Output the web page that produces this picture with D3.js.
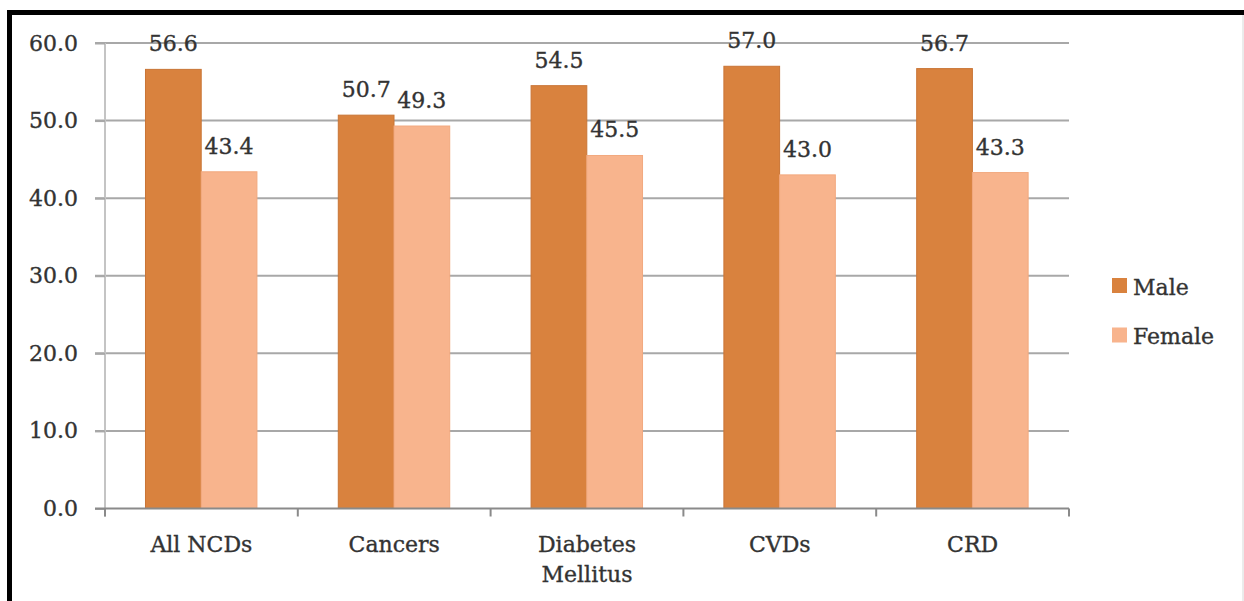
<!DOCTYPE html>
<html>
<head>
<meta charset="utf-8">
<script src="https://cdn.jsdelivr.net/npm/d3@7"></script>
<style>
  html, body { margin: 0; padding: 0; background: #fff; }
  svg { display: block; }
  text { font-family: "DejaVu Serif", serif; fill: #333; stroke: #333; stroke-width: 0.35px; }
</style>
</head>
<body>
<svg id="chart" width="1244" height="601"></svg>
<script>
// Share of deaths by sex for each NCD group (%)
const categories = [["All NCDs"], ["Cancers"], ["Diabetes", "Mellitus"], ["CVDs"], ["CRD"]];
const seriesNames = ["Male", "Female"];
const maleValues = [56.6, 50.7, 54.5, 57.0, 56.7];
const femaleValues = [43.4, 49.3, 45.5, 43.0, 43.3];
const yTicks = [0, 10, 20, 30, 40, 50, 60];

const colors = { Male: "#d9823e", Female: "#f8b48d" };
const strokes = { Male: "#c97536", Female: "#f2a97f" };

const svg = d3.select("#chart");
const W = 1244, H = 601;
const plot = { left: 105, right: 1069, top: 43, bottom: 508.5 };

const catKeys = categories.map(c => c.join(" "));
const rows = catKeys.map((k, i) => ({ key: k, lines: categories[i], Male: maleValues[i], Female: femaleValues[i] }));

const x0 = d3.scaleBand().domain(catKeys).range([plot.left, plot.right]).padding(0);
const bw = x0.bandwidth();
const x1 = d3.scaleBand().domain(seriesNames).range([bw * 0.21, bw * 0.788]).padding(0);
const y = d3.scaleLinear().domain([0, 60]).range([plot.bottom, plot.top]);

// frame
svg.append("rect").attr("x", 0).attr("y", 0).attr("width", W).attr("height", H).attr("fill", "#fff");
svg.append("rect").attr("x", 7).attr("y", 10).attr("width", W - 7).attr("height", 5).attr("fill", "#000");
svg.append("rect").attr("x", 7).attr("y", 10).attr("width", 5).attr("height", H - 10).attr("fill", "#000");
svg.append("line").attr("x1", W - 1).attr("x2", W - 1).attr("y1", 15).attr("y2", H)
  .attr("stroke", "#d8d8d8").attr("stroke-width", 1);

// horizontal gridlines
svg.append("g").selectAll("line").data(yTicks.filter(t => t > 0)).join("line")
  .attr("x1", plot.left - 10).attr("x2", plot.right)
  .attr("y1", d => y(d)).attr("y2", d => y(d))
  .attr("stroke", "#a8a8a8").attr("stroke-width", 2);

// y axis
const yAxis = svg.append("g").attr("transform", `translate(${plot.left},0)`)
  .call(d3.axisLeft(y).tickValues(yTicks).tickFormat(d3.format(".1f")).tickSize(10).tickPadding(17));
yAxis.select(".domain").attr("stroke", "#c4c4c4").attr("stroke-width", 2)
  .attr("d", `M0,${plot.top}V${plot.bottom + 8}`);
yAxis.selectAll(".tick line").attr("stroke", "#a8a8a8").attr("stroke-width", 2);
yAxis.selectAll(".tick text").attr("font-size", 22).attr("font-family", "DejaVu Serif")
  .attr("fill", "#333").attr("stroke", "#333").attr("stroke-width", 0.35);

// bars
const groups = svg.append("g").selectAll("g").data(rows).join("g")
  .attr("transform", d => `translate(${x0(d.key)},0)`);

groups.selectAll("rect").data(d => seriesNames.map(s => ({ s, v: d[s] }))).join("rect")
  .attr("x", d => x1(d.s)).attr("width", x1.bandwidth())
  .attr("y", d => y(d.v)).attr("height", d => y(0) - y(d.v))
  .attr("fill", d => colors[d.s]).attr("stroke", d => strokes[d.s]).attr("stroke-width", 1);

groups.selectAll("text.val").data(d => seriesNames.map(s => ({ s, v: d[s] }))).join("text")
  .attr("class", "val")
  .attr("x", d => x1(d.s) + x1.bandwidth() / 2)
  .attr("y", d => y(d.v) - 18)
  .attr("text-anchor", "middle").attr("font-size", 22)
  .text(d => d3.format(".1f")(d.v));

// x axis
const xAxis = svg.append("g").attr("transform", `translate(0,${plot.bottom})`);
xAxis.append("line").attr("x1", plot.left - 10).attr("x2", plot.right)
  .attr("stroke", "#8a8a8a").attr("stroke-width", 2);
xAxis.selectAll("line.tk").data(catKeys.map(k => x0(k)).concat([plot.right])).join("line")
  .attr("class", "tk").attr("x1", d => d).attr("x2", d => d).attr("y1", 0).attr("y2", 8)
  .attr("stroke", "#8a8a8a").attr("stroke-width", 2);

const xl = svg.append("g").selectAll("text").data(rows).join("text")
  .attr("text-anchor", "middle").attr("font-size", 22)
  .attr("x", d => x0(d.key) + bw / 2).attr("y", 552);
xl.selectAll("tspan").data(d => d.lines).join("tspan")
  .attr("x", function () { return d3.select(this.parentNode).attr("x"); })
  .attr("dy", (d, i) => i === 0 ? 0 : 30)
  .text(d => d);

// legend
const legend = svg.append("g").selectAll("g").data(seriesNames).join("g")
  .attr("transform", (d, i) => `translate(1112,${278 + i * 49.5})`);
legend.append("rect").attr("width", 15).attr("height", 15).attr("fill", d => colors[d]);
legend.append("text").attr("x", 21).attr("y", 16.5).attr("font-size", 22).text(d => d);
</script>
</body>
</html>
